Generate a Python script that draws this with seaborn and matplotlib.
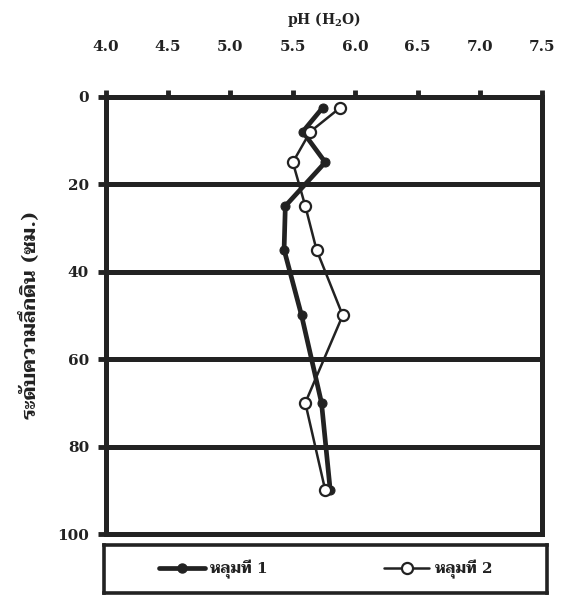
import matplotlib
matplotlib.use("Agg")
import matplotlib.pyplot as plt
from matplotlib.lines import Line2D
import seaborn as sns
import pandas as pd

# ---- data ----
depth = [2.5, 8, 15, 25, 35, 50, 70, 90]
ph_pit1 = [5.74, 5.58, 5.76, 5.44, 5.43, 5.57, 5.73, 5.80]
ph_pit2 = [5.88, 5.64, 5.50, 5.60, 5.69, 5.90, 5.60, 5.76]
series_names = ["หลุมที่ 1", "หลุมที่ 2"]
x_ticks = [4.0, 4.5, 5.0, 5.5, 6.0, 6.5, 7.0, 7.5]
y_ticks = [0, 20, 40, 60, 80, 100]
x_label = "pH (H$_2$O)"
y_label = "ระดับความลึกดิน (ซม.)"

sns.set_style("white")
FAM = ["DejaVu Serif", "Taviraj"]
plt.rcParams["font.family"] = FAM
plt.rcParams["font.weight"] = "bold"
plt.rcParams["mathtext.fontset"] = "dejavuserif"
plt.rcParams["mathtext.default"] = "bf"
INK = "#222222"

df1 = pd.DataFrame({"pH": ph_pit1, "depth": depth})
df2 = pd.DataFrame({"pH": ph_pit2, "depth": depth})

fig = plt.figure(figsize=(5.63, 5.95), dpi=100)
ax = fig.add_axes([105.7/563, 1-534/595, (542.3-105.7)/563, (534-96.7)/595])

# grid lines at 20..80
for yv in y_ticks[1:-1]:
    ax.axhline(yv, color=INK, lw=3.6, zorder=1)

sns.lineplot(data=df1, x="pH", y="depth", sort=False, estimator=None, ax=ax,
             color=INK, lw=3.4, marker="o", markersize=6.5, markerfacecolor=INK,
             markeredgecolor=INK, zorder=3)
sns.lineplot(data=df2, x="pH", y="depth", sort=False, estimator=None, ax=ax,
             color=INK, lw=1.8, marker="o", markersize=8, markerfacecolor="white",
             markeredgecolor=INK, markeredgewidth=1.6, zorder=4)

ax.set_xlim(4.0, 7.5)
ax.set_ylim(100, 0)
ax.set_xticks(x_ticks)
ax.set_xticklabels([f"{v:.1f}" for v in x_ticks])
ax.set_yticks(y_ticks)
ax.set_yticklabels([str(v) for v in y_ticks])
ax.xaxis.tick_top()
ax.xaxis.set_label_position("top")
ax.tick_params(axis="x", which="both", top=True, bottom=False, direction="out",
               length=5, width=3.5, color=INK, pad=26, labelsize=11, labelcolor=INK)
ax.tick_params(axis="y", which="both", left=True, direction="out",
               length=6, width=3.5, color=INK, pad=6, labelsize=11, labelcolor=INK)
for lab in ax.get_xticklabels() + ax.get_yticklabels():
    lab.set_fontweight("bold")
for s in ax.spines.values():
    s.set_color(INK)
    s.set_linewidth(3.6)
    s.set_visible(True)

ax.set_xlabel(x_label, fontsize=10, fontweight="bold", color=INK, labelpad=11)
ax.set_ylabel(y_label, fontsize=14, fontweight="bold", color=INK, labelpad=12)

# legend box
lax = fig.add_axes([104/563, 1-593/595, 443/563, 48/595])
lax.set_xticks([]); lax.set_yticks([])
lax.set_facecolor("white")
for s in lax.spines.values():
    s.set_color(INK)
    s.set_linewidth(2.6)
    s.set_visible(True)

handles = [
    Line2D([], [], color=INK, lw=3.4, marker="o", markersize=6.5,
           markerfacecolor=INK, markeredgecolor=INK),
    Line2D([], [], color=INK, lw=1.8, marker="o", markersize=8,
           markerfacecolor="white", markeredgecolor=INK, markeredgewidth=1.6),
]
leg = lax.legend(handles, series_names, loc="center", ncol=2, frameon=False,
                 handlelength=3.0, handletextpad=0.35, columnspacing=7.6,
                 prop={"family": FAM, "weight": "bold", "size": 11})
for t in leg.get_texts():
    t.set_color(INK)

fig.savefig("out.png", dpi=100)
